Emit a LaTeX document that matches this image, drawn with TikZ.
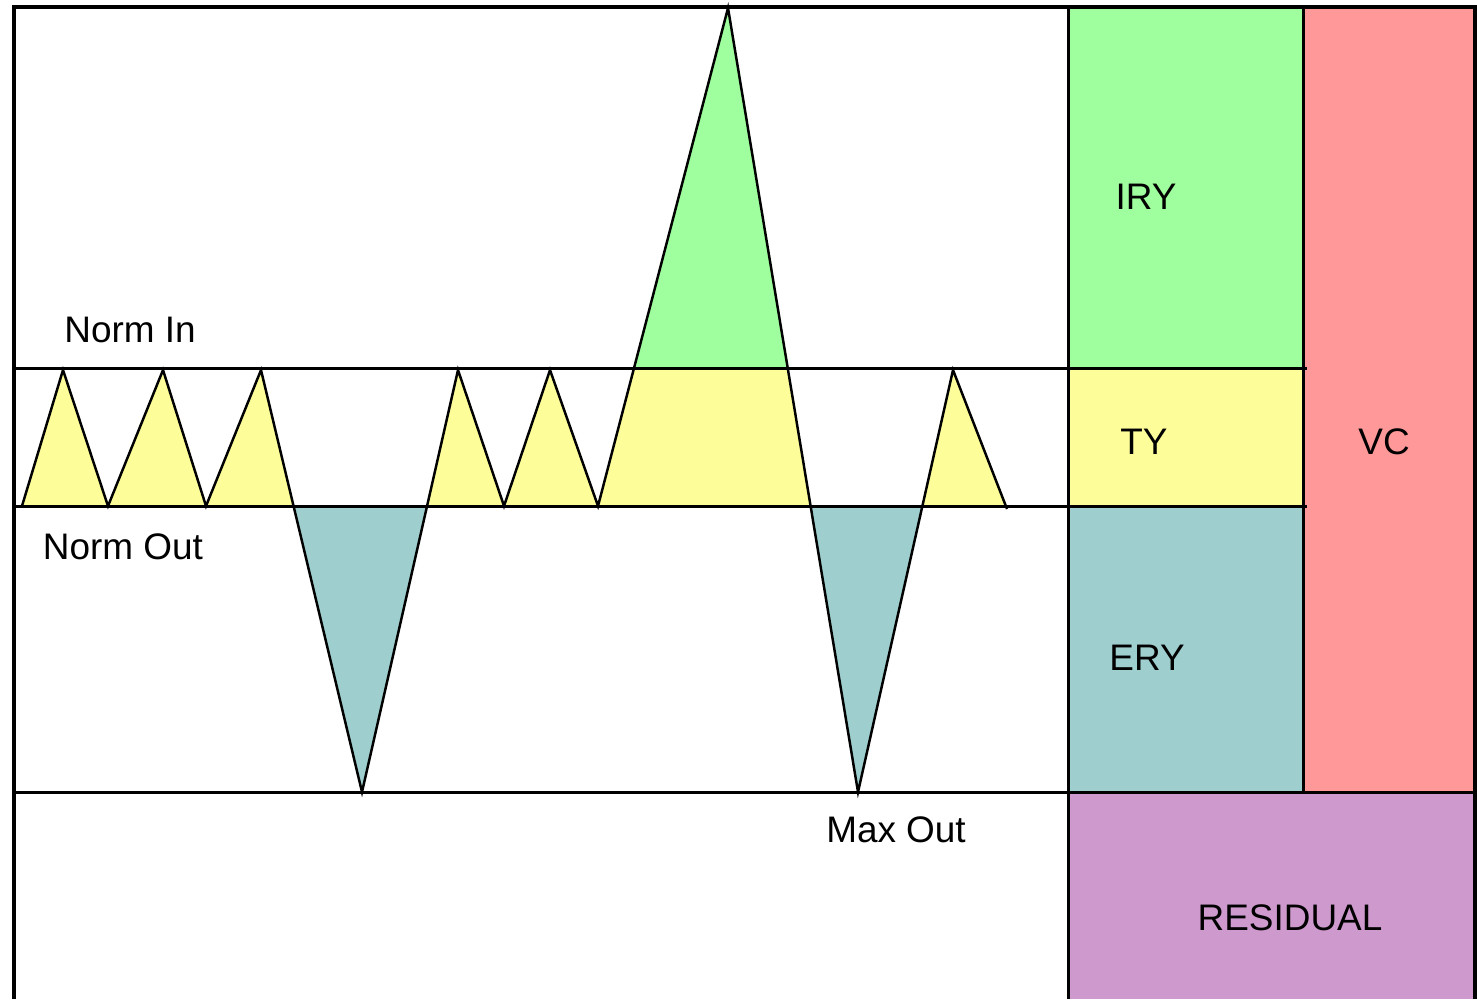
\documentclass[tikz,border=0pt]{standalone}
\usepackage{fontspec}
\setmainfont{Liberation Sans}
\definecolor{tyfill}{HTML}{FDFD9A}
\definecolor{iryfill}{HTML}{9FFF9F}
\definecolor{eryfill}{HTML}{9ECECE}
\definecolor{vcfill}{HTML}{FF9999}
\definecolor{resfill}{HTML}{CE9ACE}
\begin{document}
\begin{tikzpicture}[x=0.01cm,y=-0.01cm,
  grid/.style={line width=0.85pt},
  frame/.style={line width=1.1pt},
  wave/.style={line width=0.7pt,line join=miter},
  lbl/.style={font=\fontsize{10.5}{12}\selectfont,inner sep=0pt}]
\useasboundingbox (0,0) rectangle (1477,999);
\fill[white] (0,0) rectangle (1477,999);

% wave vertices
\coordinate (w0) at (22,506);
\coordinate (p1) at (63,370);
\coordinate (t1) at (108,506);
\coordinate (p2) at (163,370);
\coordinate (t2) at (206,506);
\coordinate (p3) at (261,370);
\coordinate (d1) at (362,792);
\coordinate (p4) at (458,370);
\coordinate (t4) at (504,506);
\coordinate (p5) at (550,370);
\coordinate (t5) at (598,506);
\coordinate (pk) at (728,8);
\coordinate (d2) at (858,792);
\coordinate (p6) at (953,370);
\coordinate (w1) at (1007,506);
\coordinate (w1e) at (1007,509);

\def\wavepath{(w0) -- (p1) -- (t1) -- (p2) -- (t2) -- (p3) -- (d1) -- (p4) -- (t4) -- (p5) -- (t5) -- (pk) -- (d2) -- (p6) -- (w1)}

% coloured bands under the wave
\begin{scope}
  \clip (14,368) rectangle (1068,506);
  \fill[tyfill] \wavepath -- cycle;
\end{scope}
\begin{scope}
  \clip (14,7) rectangle (1068,368);
  \fill[iryfill] \wavepath -- cycle;
\end{scope}
\begin{scope}
  \clip (14,506) rectangle (1068,792);
  \fill[eryfill] \wavepath -- cycle;
\end{scope}
\draw[wave] (w0) -- (p1) -- (t1) -- (p2) -- (t2) -- (p3) -- (d1) -- (p4) -- (t4) -- (p5) -- (t5) -- (pk) -- (d2) -- (p6) -- (w1e);

% right-hand panels
\fill[iryfill] (1068,7) rectangle (1303,368);
\fill[tyfill] (1068,368) rectangle (1303,506);
\fill[eryfill] (1068,506) rectangle (1303,792);
\fill[vcfill] (1303,7) rectangle (1475,792);
\fill[resfill] (1068,792) rectangle (1475,999);

% level lines
\draw[grid] (14,368) -- (1307,368);
\draw[grid] (14,506) -- (1307,506);
\draw[grid] (14,792) -- (1475,792);
\draw[grid] (1068,7) -- (1068,999);
\draw[grid] (1303,7) -- (1303,792);

% outer frame
\draw[frame] (14,999) -- (14,7) -- (1475,7) -- (1475,999);

% labels
\node[lbl] (normin) at (130,330) {Norm In};
\node[lbl] (normout) at (123,547) {Norm Out};
\node[lbl] (maxout) at (896,830) {Max Out};
\node[lbl] (iry) at (1146,197) {IRY};
\node[lbl] (ty) at (1144,442) {TY};
\node[lbl] (vc) at (1384,442) {VC};
\node[lbl] (ery) at (1147,658) {ERY};
\node[lbl] (res) at (1290,918) {RESIDUAL};
\end{tikzpicture}
\end{document}
